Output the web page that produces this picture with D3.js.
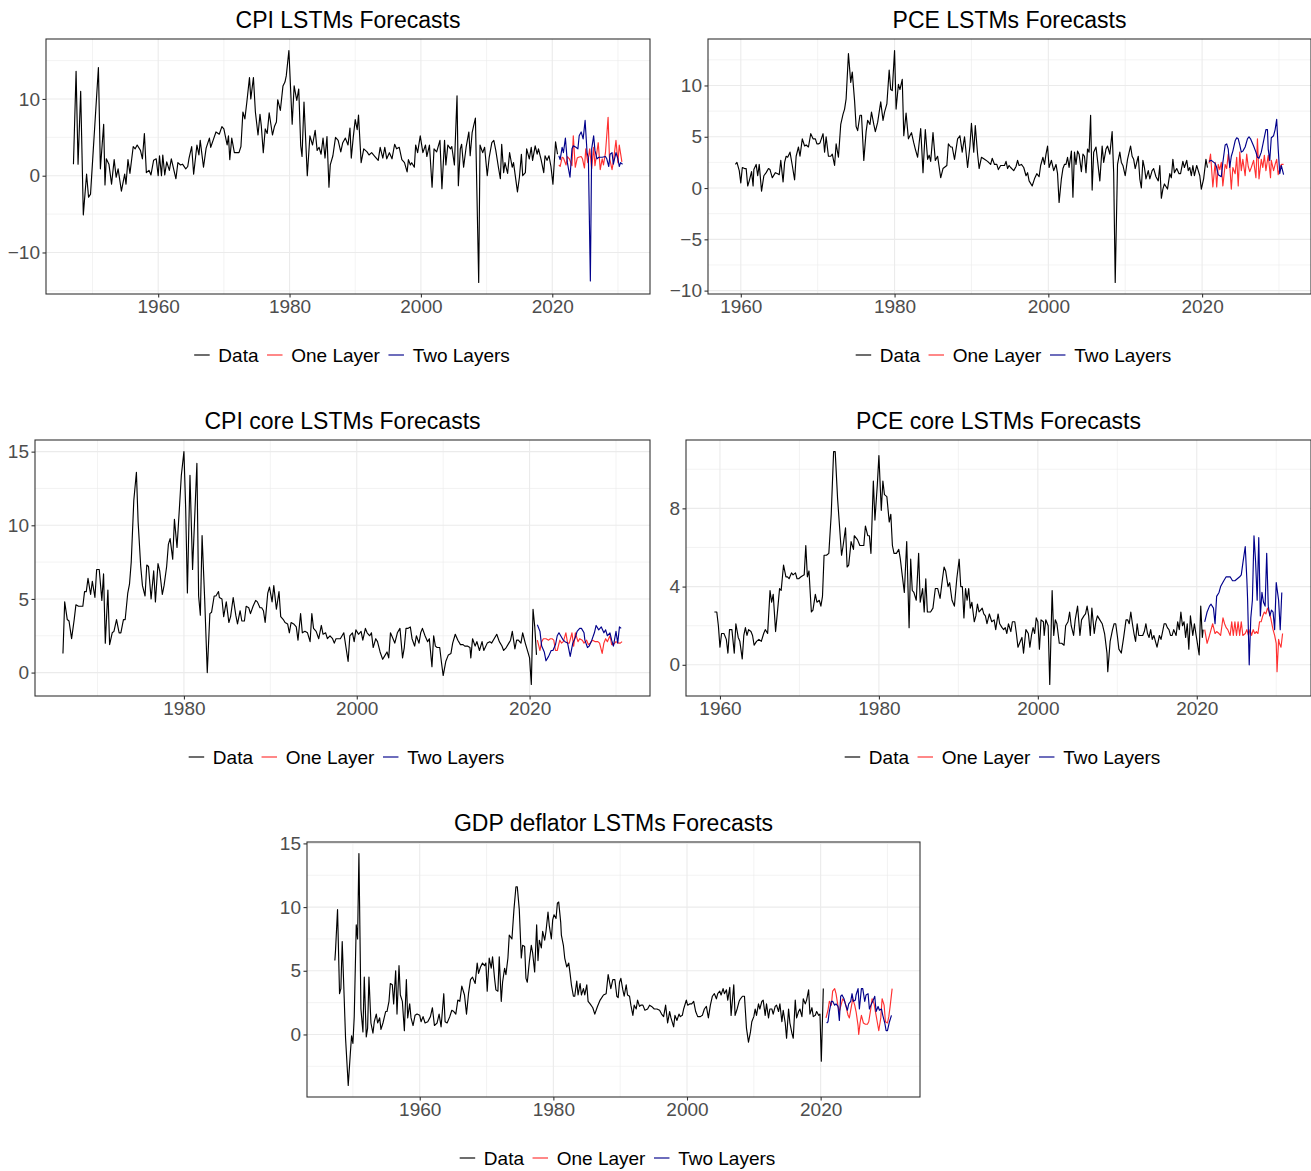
<!DOCTYPE html>
<html><head><meta charset="utf-8">
<script src="https://cdn.jsdelivr.net/npm/d3@7"></script>
<style>
body{margin:0;background:#fff}
svg{display:block}
text{font-family:"Liberation Sans",Arial,Helvetica,sans-serif}
</style>
</head><body>
<svg id="chart" width="1311" height="1171"></svg>
<script>
// ---------------- DATA ([year, value]) ----------------
const xTicks = [1960, 1980, 2000, 2020];
const seriesNames = ["Data", "One Layer", "Two Layers"];

const cpiYTicks = [-10, 0, 10];
const cpiData = [[1947.1,1.5],[1947.5,13.6],[1947.8,1.5],[1948.2,11.0],[1948.6,-5.1],[1949.1,0.2],[1949.4,-2.8],[1949.7,-2.4],[1950.9,14.1],[1951.2,0.9],[1951.7,6.7],[1951.9,-1.2],[1952.1,2.2],[1952.5,1.5],[1952.9,-1.1],[1953.3,2.1],[1953.6,-0.2],[1953.9,0.9],[1954.4,-2.0],[1954.9,0.2],[1955.1,-1.1],[1955.4,2.1],[1955.7,0.3],[1956.2,3.8],[1956.5,3.5],[1956.8,4.0],[1957.3,3.3],[1957.6,2.2],[1957.9,5.5],[1958.2,0.4],[1958.6,0.7],[1958.9,0.1],[1959.3,2.0],[1959.7,2.2],[1960.0,0.0],[1960.2,2.6],[1960.5,0.0],[1960.7,2.7],[1961.0,0.1],[1961.3,1.8],[1961.7,0.7],[1962.0,2.2],[1962.4,0.7],[1962.7,-0.4],[1963.0,1.7],[1963.4,1.4],[1963.7,1.5],[1964.2,0.9],[1964.5,1.2],[1964.7,2.3],[1965.1,3.8],[1965.4,0.2],[1965.9,4.0],[1966.2,2.7],[1966.4,4.6],[1966.9,1.1],[1967.3,3.6],[1967.8,4.9],[1968.0,3.7],[1968.4,4.7],[1968.8,5.7],[1969.3,5.4],[1969.7,6.4],[1970.0,6.1],[1970.5,4.0],[1970.7,5.2],[1970.9,2.1],[1971.2,4.9],[1971.6,3.0],[1972.3,3.0],[1972.6,3.8],[1972.9,8.3],[1973.2,7.4],[1973.5,9.6],[1973.9,12.8],[1974.1,10.0],[1974.5,12.8],[1974.8,8.3],[1975.2,5.3],[1975.5,8.0],[1975.7,6.5],[1976.0,3.0],[1976.3,6.1],[1976.6,5.5],[1976.9,8.2],[1977.4,5.3],[1977.7,6.4],[1978.0,7.0],[1978.2,9.9],[1978.6,8.5],[1979.0,11.7],[1979.3,12.2],[1979.5,13.0],[1979.9,16.3],[1980.4,6.7],[1980.7,11.7],[1981.1,9.8],[1981.4,11.3],[1981.7,3.9],[1981.9,2.5],[1982.2,9.6],[1982.7,0.0],[1983.1,5.2],[1983.5,4.0],[1983.9,5.9],[1984.2,3.3],[1984.5,3.7],[1984.8,2.8],[1985.1,4.9],[1985.4,2.3],[1985.7,5.1],[1986.0,-1.5],[1986.2,1.4],[1986.6,2.6],[1987.0,5.0],[1987.4,4.6],[1987.8,3.1],[1988.1,4.3],[1988.5,4.9],[1988.9,4.0],[1989.2,6.2],[1989.4,2.3],[1989.7,5.0],[1990.0,7.3],[1990.3,6.0],[1990.5,7.9],[1990.9,1.7],[1991.3,3.5],[1991.8,3.1],[1992.1,2.7],[1992.5,3.0],[1993.0,2.5],[1993.5,2.0],[1993.8,3.7],[1994.2,2.3],[1994.5,3.7],[1994.8,2.2],[1995.2,3.0],[1995.6,2.2],[1996.0,4.1],[1996.3,3.5],[1996.7,3.7],[1997.1,2.1],[1997.5,1.7],[1997.9,0.5],[1998.1,2.1],[1998.4,1.4],[1998.6,1.7],[1999.0,1.1],[1999.2,4.0],[1999.5,3.0],[1999.9,5.2],[2000.3,3.0],[2000.7,4.0],[2000.9,2.5],[2001.3,4.0],[2001.7,-1.5],[2002.0,3.5],[2002.4,3.1],[2002.9,4.6],[2003.2,-1.7],[2003.6,4.6],[2003.8,1.4],[2004.1,4.0],[2004.5,3.5],[2004.7,3.8],[2005.1,1.4],[2005.5,10.4],[2005.7,-1.3],[2006.0,3.5],[2006.2,4.1],[2006.5,1.1],[2006.9,3.8],[2007.3,5.7],[2007.5,2.6],[2007.8,5.6],[2008.0,6.4],[2008.3,7.5],[2008.8,-13.9],[2009.0,4.0],[2009.4,3.0],[2009.7,3.7],[2010.1,0.0],[2010.4,2.4],[2010.8,4.3],[2011.1,4.6],[2011.4,3.3],[2011.8,1.1],[2012.1,-0.4],[2012.3,4.1],[2012.6,0.4],[2012.8,1.7],[2013.2,0.3],[2013.5,3.0],[2013.9,1.1],[2014.1,1.7],[2014.7,-2.1],[2015.0,-0.2],[2015.3,2.8],[2015.5,0.0],[2015.9,0.4],[2016.1,3.5],[2016.5,2.2],[2016.8,3.7],[2017.0,2.0],[2017.4,3.9],[2017.7,2.8],[2017.9,3.5],[2018.3,2.1],[2018.7,0.4],[2018.9,2.6],[2019.2,2.0],[2019.5,2.6],[2019.8,1.2],[2020.1,-1.1],[2020.5,4.4],[2020.8,2.8]];
const cpiOne = [[2021.0,1.4],[2021.2,1.2],[2021.5,2.4],[2021.7,2.3],[2022.1,1.4],[2022.3,2.5],[2022.6,2.2],[2023.0,1.3],[2023.2,5.2],[2023.5,1.1],[2023.8,2.3],[2024.0,2.4],[2024.4,2.5],[2024.6,2.2],[2024.9,1.0],[2025.1,3.5],[2025.4,1.7],[2025.7,3.5],[2026.0,0.9],[2026.3,3.7],[2026.5,1.3],[2027.0,4.3],[2027.3,0.8],[2027.6,2.2],[2027.8,1.4],[2028.1,3.0],[2028.5,7.6],[2028.7,2.4],[2029.1,0.8],[2029.3,1.8],[2029.7,4.6],[2030.0,1.7],[2030.2,4.0],[2030.6,1.8]];
const cpiTwo = [[2021.0,2.6],[2021.2,2.1],[2021.5,3.7],[2021.7,3.0],[2022.0,4.9],[2022.3,1.7],[2022.7,-0.2],[2023.0,3.5],[2023.2,3.9],[2023.6,3.7],[2023.9,3.5],[2024.1,5.2],[2024.4,5.7],[2024.7,4.8],[2025.0,7.2],[2025.3,3.0],[2025.5,2.3],[2025.8,-13.7],[2026.0,3.5],[2026.3,5.2],[2026.5,3.3],[2026.8,2.2],[2027.1,2.4],[2027.6,2.4],[2028.1,2.5],[2028.3,2.2],[2028.6,1.2],[2028.8,2.8],[2029.1,3.0],[2029.3,1.5],[2029.7,3.0],[2030.0,2.2],[2030.2,1.2],[2030.4,1.7],[2030.7,1.5]];

const pceYTicks = [-10, -5, 0, 5, 10];
const pceData = [[1959.3,2.3],[1959.5,2.5],[1959.8,1.7],[1960.0,0.5],[1960.2,2.0],[1960.5,1.9],[1960.7,1.9],[1960.9,0.2],[1961.1,0.7],[1961.4,1.6],[1961.6,0.2],[1961.7,1.8],[1962.0,2.3],[1962.2,1.2],[1962.4,2.3],[1962.7,-0.3],[1963.0,1.2],[1963.3,1.5],[1963.6,1.9],[1963.8,1.8],[1964.1,1.0],[1964.5,1.5],[1964.8,1.4],[1965.0,1.3],[1965.2,2.7],[1965.5,0.6],[1965.7,2.5],[1965.9,3.1],[1966.1,3.0],[1966.4,3.5],[1966.7,2.2],[1967.0,0.8],[1967.2,3.1],[1967.5,4.0],[1967.7,3.1],[1968.0,4.8],[1968.3,4.1],[1968.5,4.2],[1968.8,4.0],[1969.1,5.3],[1969.4,4.8],[1969.7,4.8],[1969.9,4.3],[1970.1,4.3],[1970.3,4.4],[1970.7,5.3],[1970.9,3.5],[1971.1,5.0],[1971.4,3.1],[1971.7,3.1],[1971.9,3.3],[1972.2,2.2],[1972.4,4.3],[1972.7,3.0],[1973.0,6.2],[1973.3,7.2],[1973.5,7.7],[1973.7,8.7],[1974.0,13.1],[1974.3,10.3],[1974.5,11.3],[1974.8,8.5],[1975.0,6.0],[1975.2,5.6],[1975.5,7.1],[1975.7,7.1],[1976.0,2.7],[1976.3,5.5],[1976.5,6.6],[1976.8,6.2],[1977.0,7.4],[1977.3,6.2],[1977.5,5.5],[1977.8,6.4],[1978.2,8.4],[1978.5,6.6],[1978.7,7.4],[1979.0,8.2],[1979.3,11.5],[1979.5,9.6],[1979.7,9.5],[1980.0,13.4],[1980.2,7.7],[1980.5,10.1],[1980.7,9.6],[1981.0,10.6],[1981.2,5.1],[1981.5,7.3],[1981.8,4.8],[1982.2,5.4],[1982.5,4.4],[1982.7,3.8],[1983.0,3.0],[1983.4,5.8],[1983.7,1.5],[1984.0,5.7],[1984.3,2.8],[1984.5,3.2],[1984.7,2.6],[1985.0,5.4],[1985.3,2.7],[1985.6,3.1],[1986.0,1.0],[1986.3,1.9],[1986.8,2.2],[1987.0,4.3],[1987.3,4.0],[1987.5,4.0],[1987.8,2.8],[1988.2,4.8],[1988.5,5.1],[1988.8,3.5],[1989.1,5.0],[1989.5,2.0],[1989.8,4.1],[1990.0,6.3],[1990.3,3.5],[1990.5,6.1],[1990.8,3.3],[1991.0,1.9],[1991.3,3.0],[1991.7,2.8],[1992.1,2.6],[1992.5,2.3],[1992.7,2.9],[1993.0,2.3],[1993.3,2.3],[1993.5,1.8],[1993.8,2.2],[1994.3,2.2],[1994.5,2.6],[1994.7,1.9],[1994.9,2.2],[1995.1,2.0],[1995.5,1.7],[1995.8,2.1],[1996.0,2.7],[1996.2,2.2],[1996.5,2.3],[1996.8,2.0],[1997.1,1.2],[1997.3,1.5],[1997.5,0.7],[1997.9,0.2],[1998.2,0.9],[1998.5,1.4],[1998.8,1.1],[1999.0,2.2],[1999.3,3.0],[1999.5,2.3],[1999.7,3.3],[1999.9,4.1],[2000.1,2.0],[2000.4,2.7],[2000.7,1.7],[2001.0,2.3],[2001.2,1.4],[2001.4,-1.4],[2001.7,0.9],[2001.9,1.9],[2002.1,2.3],[2002.3,2.3],[2002.5,3.0],[2002.7,2.0],[2003.0,3.6],[2003.2,-0.9],[2003.4,3.5],[2003.6,2.3],[2003.8,3.6],[2004.0,3.3],[2004.3,1.6],[2004.5,3.3],[2004.7,3.1],[2004.9,1.5],[2005.1,3.8],[2005.3,3.5],[2005.5,7.1],[2005.7,-0.2],[2005.9,3.5],[2006.2,4.0],[2006.4,2.7],[2006.7,0.7],[2007.0,4.1],[2007.2,2.5],[2007.5,3.8],[2007.7,4.1],[2008.0,3.3],[2008.3,5.5],[2008.5,1.5],[2008.7,-9.2],[2009.0,2.3],[2009.3,3.5],[2009.5,2.5],[2009.7,2.2],[2010.0,1.2],[2010.3,2.8],[2010.7,4.1],[2010.9,3.1],[2011.1,2.8],[2011.3,1.9],[2011.7,3.1],[2011.9,0.9],[2012.1,0.0],[2012.3,2.7],[2012.5,2.0],[2012.7,0.9],[2013.0,1.7],[2013.2,0.9],[2013.5,1.7],[2013.7,1.9],[2014.0,1.1],[2014.3,0.7],[2014.5,2.2],[2014.7,-1.0],[2014.9,-0.1],[2015.1,0.4],[2015.5,-0.1],[2015.8,1.4],[2016.0,1.0],[2016.2,2.8],[2016.4,1.5],[2016.7,1.9],[2017.0,1.4],[2017.2,1.4],[2017.5,2.6],[2017.7,2.0],[2018.0,2.7],[2018.2,1.7],[2018.4,2.0],[2018.6,1.2],[2018.8,2.2],[2019.0,1.2],[2019.3,2.2],[2019.5,1.7],[2019.7,1.2],[2019.9,-0.1],[2020.2,0.9],[2020.5,2.8],[2020.7,2.0]];
const pceOne = [[2020.9,2.4],[2021.1,3.3],[2021.4,0.1],[2021.7,2.5],[2021.9,0.1],[2022.1,2.3],[2022.3,1.8],[2022.5,2.5],[2022.7,0.2],[2023.0,2.3],[2023.2,1.9],[2023.4,3.3],[2023.6,2.2],[2023.8,-0.1],[2024.0,2.0],[2024.3,1.4],[2024.5,3.0],[2024.7,0.2],[2024.9,3.5],[2025.1,1.7],[2025.3,2.8],[2025.6,1.2],[2025.8,3.3],[2026.0,2.1],[2026.2,1.6],[2026.4,2.0],[2026.7,2.7],[2027.0,1.0],[2027.2,4.8],[2027.4,0.9],[2027.7,2.8],[2027.9,2.0],[2028.1,3.2],[2028.3,1.7],[2028.6,3.2],[2028.9,1.0],[2029.0,2.7],[2029.3,1.7],[2029.5,2.3],[2029.7,2.8],[2029.9,1.3],[2030.1,1.9],[2030.3,2.3],[2030.6,2.3]];
const pceTwo = [[2020.9,2.6],[2021.2,2.7],[2021.7,2.4],[2021.9,2.0],[2022.1,1.3],[2022.3,1.2],[2022.5,1.1],[2022.7,2.5],[2023.0,4.2],[2023.2,4.3],[2023.4,3.8],[2023.6,2.0],[2023.8,3.1],[2024.0,3.6],[2024.3,4.6],[2024.5,4.9],[2024.7,4.8],[2024.9,4.2],[2025.1,3.5],[2025.3,3.6],[2025.6,4.0],[2025.9,4.8],[2026.1,5.0],[2026.3,4.8],[2026.7,4.1],[2027.0,3.5],[2027.2,3.0],[2027.4,2.9],[2027.7,3.5],[2028.0,4.6],[2028.3,5.7],[2028.5,5.7],[2028.6,3.8],[2028.8,2.7],[2029.0,4.9],[2029.3,5.1],[2029.5,5.7],[2029.7,6.7],[2029.9,3.8],[2030.1,1.4],[2030.3,2.2],[2030.6,1.3]];

const cpiCoreYTicks = [0, 5, 10, 15];
const cpiCoreData = [[1966.0,1.3],[1966.2,4.8],[1966.5,3.6],[1966.7,3.5],[1967.0,2.3],[1967.3,3.6],[1967.5,4.6],[1967.8,4.5],[1968.1,4.5],[1968.3,4.5],[1968.5,5.5],[1968.7,5.5],[1968.9,6.4],[1969.2,5.3],[1969.4,6.2],[1969.7,5.1],[1969.9,7.0],[1970.2,7.0],[1970.5,4.9],[1970.7,6.7],[1970.9,2.0],[1971.2,5.6],[1971.4,1.9],[1971.7,2.7],[1971.9,2.8],[1972.2,3.6],[1972.5,2.7],[1972.7,2.7],[1973.0,3.6],[1973.2,3.6],[1973.5,5.4],[1973.7,6.0],[1973.9,7.5],[1974.2,11.7],[1974.5,13.6],[1974.7,10.2],[1975.0,7.2],[1975.2,5.9],[1975.5,5.2],[1975.7,7.3],[1975.9,7.2],[1976.2,5.0],[1976.5,6.9],[1976.7,4.8],[1977.0,7.4],[1977.2,6.9],[1977.5,5.3],[1977.7,5.9],[1978.0,7.2],[1978.2,8.7],[1978.4,9.1],[1978.7,7.7],[1978.9,10.4],[1979.2,8.5],[1979.5,11.4],[1979.7,13.4],[1980.0,15.0],[1980.2,11.2],[1980.4,5.4],[1980.7,13.4],[1981.0,7.0],[1981.5,14.2],[1981.7,5.2],[1981.9,3.9],[1982.1,9.3],[1982.4,5.0],[1982.7,0.0],[1983.0,4.0],[1983.2,4.1],[1983.5,5.2],[1983.7,5.2],[1984.0,5.5],[1984.1,5.1],[1984.4,5.0],[1984.6,3.8],[1984.9,4.8],[1985.2,3.4],[1985.4,3.8],[1985.7,5.1],[1986.0,3.9],[1986.2,3.3],[1986.5,4.2],[1986.7,3.5],[1987.0,3.5],[1987.2,4.5],[1987.5,4.4],[1987.7,4.0],[1988.0,4.5],[1988.3,4.9],[1988.5,4.8],[1988.8,4.4],[1989.0,4.4],[1989.2,4.2],[1989.4,3.4],[1989.7,5.4],[1989.9,5.8],[1990.2,4.8],[1990.4,5.9],[1990.7,4.3],[1991.0,5.5],[1991.2,3.8],[1991.5,3.6],[1991.7,3.4],[1992.0,3.3],[1992.2,2.7],[1992.4,3.4],[1992.7,3.3],[1993.0,3.1],[1993.2,2.2],[1993.5,4.0],[1993.7,2.7],[1994.0,2.8],[1994.3,2.7],[1994.6,2.1],[1994.8,4.0],[1995.0,3.0],[1995.3,2.8],[1995.6,2.3],[1995.9,3.2],[1996.1,2.6],[1996.4,2.7],[1996.6,2.3],[1996.9,2.5],[1997.2,2.3],[1997.4,2.0],[1997.6,2.3],[1998.1,2.3],[1998.5,2.7],[1999.0,0.75],[1999.2,2.5],[1999.5,2.7],[1999.7,2.1],[1999.9,2.9],[2000.2,2.6],[2000.5,2.8],[2000.7,2.2],[2001.0,3.0],[2001.2,2.7],[2001.5,2.5],[2001.7,2.7],[2001.9,1.7],[2002.2,2.3],[2002.4,2.1],[2002.7,1.4],[2003.0,0.9],[2003.2,1.1],[2003.5,1.4],[2003.7,1.0],[2003.9,2.7],[2004.2,2.3],[2004.4,2.0],[2004.7,2.7],[2005.0,3.0],[2005.3,1.0],[2005.5,1.7],[2005.7,3.0],[2005.9,3.0],[2006.2,3.1],[2006.4,2.3],[2006.7,1.8],[2006.9,2.5],[2007.2,2.0],[2007.4,2.7],[2007.6,3.0],[2007.9,2.5],[2008.2,2.1],[2008.4,2.3],[2008.7,0.4],[2008.9,2.5],[2009.1,1.8],[2009.3,1.7],[2009.6,1.7],[2009.8,0.7],[2010.0,-0.2],[2010.3,0.75],[2010.6,1.2],[2010.9,1.3],[2011.1,2.0],[2011.4,2.6],[2011.7,2.2],[2012.0,1.9],[2012.3,1.9],[2012.5,1.8],[2012.8,1.8],[2013.1,1.7],[2013.2,1.0],[2013.4,2.3],[2013.7,1.8],[2013.9,2.1],[2014.2,1.5],[2014.5,2.1],[2014.7,1.5],[2015.1,2.0],[2015.4,2.1],[2015.6,2.0],[2015.9,2.3],[2016.2,2.6],[2016.5,2.1],[2016.8,1.8],[2017.0,1.5],[2017.3,1.7],[2017.6,2.0],[2017.8,2.2],[2018.0,2.8],[2018.3,1.6],[2018.5,2.2],[2018.7,2.2],[2019.0,2.0],[2019.2,2.7],[2019.5,2.0],[2019.8,1.4],[2020.0,1.0],[2020.2,-0.8],[2020.4,4.3],[2020.6,3.1],[2020.8,1.2]];
const cpiCoreOne = [[2020.9,2.2],[2021.2,1.5],[2021.4,2.1],[2021.6,2.3],[2021.9,2.3],[2022.2,2.2],[2022.4,2.3],[2022.6,2.3],[2022.8,2.2],[2023.0,1.5],[2023.2,1.5],[2023.5,2.2],[2023.7,2.0],[2023.9,2.1],[2024.2,2.7],[2024.4,2.0],[2024.6,2.0],[2024.9,2.7],[2025.1,1.8],[2025.3,2.7],[2025.6,2.1],[2025.8,2.3],[2026.1,2.2],[2026.3,2.0],[2026.6,2.2],[2026.8,1.9],[2027.0,2.0],[2027.3,2.2],[2027.6,2.1],[2027.9,2.1],[2028.1,2.0],[2028.4,1.3],[2028.6,2.0],[2028.8,2.3],[2029.0,2.1],[2029.3,2.5],[2029.5,1.9],[2029.7,1.9],[2030.0,2.1],[2030.3,2.0],[2030.5,2.0],[2030.7,2.1]];
const cpiCoreTwo = [[2020.9,3.25],[2021.2,2.8],[2021.4,1.8],[2021.7,1.4],[2021.9,0.8],[2022.2,1.1],[2022.5,1.5],[2022.7,1.5],[2023.0,1.9],[2023.2,2.5],[2023.4,2.7],[2023.6,2.5],[2023.9,2.2],[2024.1,2.1],[2024.4,2.0],[2024.7,1.1],[2025.0,2.0],[2025.3,2.4],[2025.5,2.8],[2025.8,3.0],[2026.0,3.0],[2026.3,2.7],[2026.4,2.2],[2026.7,1.7],[2026.9,1.8],[2027.2,2.2],[2027.5,2.7],[2027.7,3.2],[2028.0,2.9],[2028.3,3.1],[2028.6,2.7],[2028.8,2.9],[2029.0,2.5],[2029.3,2.7],[2029.5,2.2],[2029.7,1.8],[2030.0,2.8],[2030.2,2.0],[2030.4,3.1],[2030.6,3.0]];

const pceCoreYTicks = [0, 4, 8];
const pceCoreData = [[1959.3,2.7],[1959.6,2.7],[1959.8,2.0],[1960.0,0.9],[1960.2,1.6],[1960.5,1.6],[1960.8,1.3],[1961.0,0.6],[1961.2,1.8],[1961.5,1.8],[1961.8,0.6],[1962.0,2.1],[1962.3,1.4],[1962.5,1.2],[1962.8,0.3],[1963.0,1.5],[1963.2,1.9],[1963.4,1.5],[1963.6,1.8],[1963.9,1.7],[1964.1,1.5],[1964.3,1.0],[1964.6,1.2],[1964.9,1.3],[1965.2,1.2],[1965.5,1.6],[1965.7,1.8],[1966.0,1.6],[1966.3,3.8],[1966.5,3.2],[1966.7,3.6],[1967.0,1.7],[1967.3,3.0],[1967.5,3.9],[1967.7,3.8],[1968.0,5.1],[1968.3,4.5],[1968.5,4.5],[1968.7,4.4],[1969.0,4.7],[1969.2,4.6],[1969.5,4.7],[1969.7,4.4],[1969.9,4.4],[1970.2,4.5],[1970.6,4.6],[1970.8,6.1],[1971.0,4.5],[1971.2,4.8],[1971.5,2.7],[1971.7,2.8],[1972.0,3.6],[1972.2,3.2],[1972.5,3.3],[1972.7,3.0],[1972.9,3.5],[1973.1,5.6],[1973.4,5.6],[1973.7,5.7],[1974.0,7.7],[1974.3,10.9],[1974.5,10.9],[1974.8,8.5],[1975.3,5.6],[1975.5,6.1],[1975.8,7.0],[1976.0,5.0],[1976.2,5.1],[1976.5,6.3],[1976.8,5.9],[1976.9,6.6],[1977.3,6.4],[1977.6,6.1],[1977.9,6.1],[1978.1,6.1],[1978.3,7.1],[1978.6,6.6],[1978.8,6.6],[1979.0,5.7],[1979.3,9.4],[1979.5,7.4],[1979.8,9.2],[1980.0,10.7],[1980.3,7.9],[1980.5,9.4],[1980.7,8.7],[1981.0,8.6],[1981.3,7.3],[1981.5,7.7],[1981.7,6.1],[1981.9,5.7],[1982.2,5.7],[1982.5,5.9],[1982.7,5.4],[1982.9,4.7],[1983.2,3.7],[1983.5,6.3],[1983.8,1.9],[1984.0,5.4],[1984.2,3.8],[1984.4,3.7],[1984.7,3.3],[1985.0,5.7],[1985.2,3.2],[1985.5,3.9],[1985.7,2.7],[1985.9,4.4],[1986.1,2.7],[1986.3,2.7],[1986.5,2.7],[1986.8,2.9],[1987.1,3.9],[1987.4,3.9],[1987.7,3.4],[1988.0,4.4],[1988.2,5.0],[1988.4,4.8],[1988.7,4.0],[1988.9,4.2],[1989.2,3.3],[1989.5,3.0],[1989.8,4.4],[1990.1,5.4],[1990.3,4.0],[1990.5,4.0],[1990.7,2.4],[1990.9,3.9],[1991.1,3.3],[1991.3,3.9],[1991.5,2.9],[1991.7,3.2],[1992.0,2.2],[1992.2,2.5],[1992.4,3.1],[1992.6,2.7],[1992.8,2.8],[1993.0,2.9],[1993.2,2.6],[1993.4,2.5],[1993.6,2.1],[1993.9,2.6],[1994.2,2.2],[1994.5,2.3],[1994.7,1.8],[1995.0,2.6],[1995.2,2.1],[1995.5,1.9],[1995.7,1.8],[1995.9,1.9],[1996.1,1.6],[1996.3,2.1],[1996.6,1.7],[1996.8,2.2],[1997.1,2.2],[1997.3,1.6],[1997.5,0.9],[1997.8,1.2],[1998.0,1.4],[1998.2,0.6],[1998.5,1.8],[1998.8,1.6],[1999.0,0.9],[1999.2,1.5],[1999.4,1.9],[1999.6,1.6],[1999.8,2.4],[2000.0,2.2],[2000.2,0.8],[2000.4,2.3],[2000.7,2.2],[2000.8,1.5],[2001.0,2.3],[2001.3,2.0],[2001.5,-1.0],[2001.8,3.8],[2002.0,1.5],[2002.2,2.3],[2002.4,2.1],[2002.7,1.1],[2003.0,1.1],[2003.3,1.0],[2003.5,2.0],[2003.8,2.2],[2004.0,2.7],[2004.2,2.0],[2004.5,1.5],[2004.7,2.3],[2005.0,3.0],[2005.3,1.5],[2005.5,2.3],[2005.8,2.5],[2006.0,2.6],[2006.2,3.0],[2006.4,2.5],[2006.6,1.5],[2006.8,2.9],[2007.1,1.6],[2007.3,2.2],[2007.5,2.5],[2007.8,2.3],[2008.1,2.1],[2008.4,1.6],[2008.7,0.6],[2008.8,-0.35],[2009.1,1.2],[2009.4,1.8],[2009.6,2.1],[2009.8,2.1],[2010.0,1.5],[2010.2,0.8],[2010.5,0.6],[2010.8,1.4],[2011.1,2.3],[2011.3,2.3],[2011.5,2.1],[2011.7,2.7],[2011.9,2.1],[2012.1,1.6],[2012.3,1.2],[2012.5,2.1],[2012.7,1.5],[2012.9,1.5],[2013.2,1.5],[2013.4,1.7],[2013.6,2.1],[2013.8,1.6],[2014.0,1.4],[2014.2,1.8],[2014.4,1.3],[2014.6,1.5],[2014.8,1.2],[2015.0,0.9],[2015.3,1.5],[2015.5,1.3],[2015.7,1.7],[2015.9,2.1],[2016.1,2.1],[2016.3,1.9],[2016.5,1.8],[2016.7,1.5],[2016.9,1.5],[2017.1,1.8],[2017.4,1.5],[2017.6,2.2],[2017.8,1.8],[2018.0,2.7],[2018.2,2.0],[2018.4,2.2],[2018.6,1.4],[2018.8,2.1],[2019.0,0.8],[2019.2,2.5],[2019.5,1.5],[2019.7,2.1],[2020.0,1.3],[2020.3,0.5],[2020.5,3.0],[2020.7,1.4],[2020.8,1.8]];
const pceCoreOne = [[2021.0,1.8],[2021.3,1.1],[2021.6,1.5],[2021.8,1.8],[2022.0,2.1],[2022.3,1.6],[2022.5,1.7],[2022.8,1.6],[2023.0,1.5],[2023.3,2.4],[2023.5,2.1],[2023.7,1.9],[2023.9,1.8],[2024.2,1.5],[2024.4,2.2],[2024.6,1.5],[2024.8,2.2],[2025.0,1.5],[2025.2,2.2],[2025.4,1.5],[2025.6,2.2],[2025.8,1.5],[2026.1,1.6],[2026.3,1.8],[2026.5,1.5],[2026.7,1.8],[2026.9,1.5],[2027.1,1.8],[2027.3,1.6],[2027.5,1.7],[2027.7,1.6],[2027.9,2.2],[2028.1,2.2],[2028.3,2.5],[2028.5,2.7],[2028.7,2.6],[2028.9,2.9],[2029.1,2.7],[2029.3,2.4],[2029.6,1.8],[2029.8,1.5],[2030.0,1.1],[2030.1,-0.35],[2030.3,1.3],[2030.4,1.1],[2030.6,0.9],[2030.8,1.6]];
const pceCoreTwo = [[2021.0,2.2],[2021.3,2.7],[2021.6,3.0],[2021.8,3.1],[2022.1,2.9],[2022.3,2.1],[2022.5,3.5],[2022.8,3.7],[2023.0,4.0],[2023.4,4.3],[2023.7,4.5],[2023.9,4.5],[2024.2,4.5],[2024.5,4.3],[2024.8,4.3],[2025.1,4.4],[2025.4,4.5],[2025.6,4.6],[2025.8,5.2],[2026.1,6.05],[2026.3,4.4],[2026.4,3.3],[2026.6,0.0],[2026.8,2.4],[2027.0,3.3],[2027.2,6.6],[2027.4,5.3],[2027.6,3.3],[2027.8,6.5],[2028.0,2.5],[2028.2,3.7],[2028.4,3.2],[2028.6,3.0],[2028.8,5.7],[2029.0,3.0],[2029.2,2.5],[2029.4,2.8],[2029.6,2.7],[2029.8,1.8],[2030.0,4.2],[2030.3,3.3],[2030.5,1.8],[2030.7,3.7]];

const gdpYTicks = [0, 5, 10, 15];
const gdpData = [[1947.3,5.8],[1947.4,6.6],[1947.7,9.8],[1948.0,3.2],[1948.2,3.6],[1948.4,7.3],[1948.7,2.8],[1948.9,-0.3],[1949.3,-4.0],[1949.6,-1.6],[1949.8,-0.1],[1950.0,-0.7],[1950.2,1.4],[1950.5,8.6],[1950.7,7.5],[1950.9,14.2],[1951.2,2.0],[1951.5,0.2],[1951.7,4.5],[1952.0,-0.2],[1952.2,0.5],[1952.4,4.5],[1952.7,0.9],[1953.0,0.1],[1953.2,1.0],[1953.5,1.6],[1953.7,0.9],[1954.0,1.3],[1954.2,0.4],[1954.5,0.9],[1954.9,1.8],[1955.1,1.8],[1955.4,2.6],[1955.6,4.0],[1955.9,3.9],[1956.1,2.4],[1956.4,5.0],[1956.6,1.6],[1956.9,5.4],[1957.1,3.1],[1957.4,2.6],[1957.7,0.3],[1958.0,4.3],[1958.2,1.3],[1958.5,2.4],[1958.7,1.3],[1959.0,0.7],[1959.3,1.5],[1959.6,1.6],[1960.0,1.5],[1960.2,1.0],[1960.5,1.4],[1960.8,0.9],[1961.2,1.0],[1961.6,1.4],[1961.9,2.1],[1962.2,0.7],[1962.6,0.9],[1962.9,1.6],[1963.2,0.6],[1963.6,3.2],[1963.8,1.0],[1964.1,0.9],[1964.5,1.4],[1964.8,1.9],[1965.1,1.8],[1965.4,1.6],[1965.7,2.7],[1966.0,2.6],[1966.3,3.8],[1966.7,3.1],[1967.0,1.6],[1967.3,3.2],[1967.6,4.3],[1967.9,4.5],[1968.3,4.0],[1968.6,5.6],[1968.8,4.8],[1969.1,5.3],[1969.4,5.6],[1969.7,5.4],[1969.9,5.6],[1970.1,3.4],[1970.4,6.0],[1970.7,5.2],[1970.9,6.1],[1971.2,4.4],[1971.4,3.5],[1971.7,3.4],[1971.9,6.1],[1972.2,2.6],[1972.4,4.1],[1972.7,5.2],[1972.9,4.7],[1973.2,6.0],[1973.4,7.8],[1973.8,7.5],[1974.1,9.8],[1974.4,11.6],[1974.6,11.6],[1974.9,9.8],[1975.2,6.0],[1975.4,7.0],[1975.7,6.9],[1975.9,4.4],[1976.1,4.1],[1976.4,5.7],[1976.7,7.0],[1976.9,6.4],[1977.2,4.9],[1977.5,8.6],[1977.7,5.8],[1977.9,7.4],[1978.2,6.8],[1978.4,8.1],[1978.7,7.4],[1978.9,8.1],[1979.2,9.6],[1979.4,8.5],[1979.7,7.5],[1979.9,9.0],[1980.1,9.4],[1980.4,9.1],[1980.6,10.3],[1980.8,10.4],[1981.1,8.8],[1981.2,7.8],[1981.5,7.0],[1981.7,6.0],[1982.0,5.3],[1982.3,5.6],[1982.5,4.8],[1982.7,3.9],[1983.0,3.0],[1983.2,3.0],[1983.5,4.2],[1983.7,3.1],[1984.0,4.0],[1984.2,3.1],[1984.5,3.6],[1984.7,3.1],[1985.0,3.9],[1985.2,2.6],[1985.5,2.4],[1985.9,2.1],[1986.2,1.6],[1986.6,2.2],[1987.0,2.7],[1987.5,3.1],[1987.9,3.2],[1988.2,4.7],[1988.6,3.6],[1988.9,4.3],[1989.2,4.3],[1989.5,3.0],[1989.7,2.9],[1989.9,4.1],[1990.1,4.4],[1990.4,3.5],[1990.6,3.0],[1990.9,3.9],[1991.1,3.1],[1991.4,3.0],[1991.6,2.3],[1991.9,1.5],[1992.1,2.3],[1992.4,2.0],[1992.6,2.7],[1992.9,2.2],[1993.1,2.3],[1993.4,2.3],[1993.7,1.9],[1994.1,2.0],[1994.4,2.3],[1994.7,2.2],[1995.1,2.0],[1995.5,2.0],[1995.9,1.9],[1996.2,1.6],[1996.5,1.4],[1996.8,2.3],[1997.1,0.9],[1997.4,1.8],[1997.6,1.3],[1998.0,0.6],[1998.2,1.5],[1998.5,1.1],[1998.8,1.6],[1999.0,1.4],[1999.3,1.5],[1999.5,2.0],[1999.9,2.7],[2000.1,2.3],[2000.4,2.4],[2000.7,2.4],[2001.0,2.6],[2001.3,1.8],[2001.6,1.4],[2002.0,1.4],[2002.3,1.5],[2002.6,2.0],[2002.9,2.2],[2003.2,1.3],[2003.5,2.3],[2003.8,3.0],[2004.1,3.2],[2004.4,2.8],[2004.6,3.2],[2004.9,3.4],[2005.1,3.1],[2005.4,3.6],[2005.6,3.2],[2005.9,3.5],[2006.1,2.7],[2006.4,3.7],[2006.6,1.5],[2007.0,3.9],[2007.2,1.5],[2007.5,2.0],[2007.8,2.6],[2008.0,2.8],[2008.3,3.0],[2008.6,3.0],[2008.9,0.5],[2009.2,-0.6],[2009.5,0.2],[2009.7,1.0],[2010.0,1.4],[2010.2,2.0],[2010.4,1.5],[2010.7,2.4],[2010.9,2.0],[2011.2,2.6],[2011.4,2.7],[2011.7,1.5],[2011.9,2.4],[2012.2,1.3],[2012.4,2.0],[2012.7,2.0],[2012.9,1.6],[2013.2,2.2],[2013.4,2.3],[2013.7,1.8],[2013.9,2.4],[2014.2,1.0],[2014.4,1.9],[2014.7,0.9],[2014.9,-0.3],[2015.2,2.0],[2015.4,0.9],[2015.7,0.1],[2015.9,-0.3],[2016.2,2.7],[2016.4,1.3],[2016.7,1.8],[2016.9,2.0],[2017.2,1.4],[2017.4,2.8],[2017.7,2.4],[2017.9,2.7],[2018.2,3.5],[2018.4,1.6],[2018.7,2.1],[2018.9,1.4],[2019.2,1.5],[2019.4,1.8],[2019.7,1.5],[2019.9,1.6],[2020.1,-2.1],[2020.4,3.6]];
const gdpOne = [[2020.8,1.3],[2021.1,1.9],[2021.3,2.6],[2021.6,2.3],[2021.8,3.4],[2022.1,3.6],[2022.3,3.2],[2022.6,2.2],[2022.8,1.8],[2023.1,2.4],[2023.3,2.8],[2023.6,2.6],[2023.8,2.2],[2024.1,1.5],[2024.3,1.3],[2024.6,2.2],[2024.8,2.8],[2025.1,2.3],[2025.3,1.8],[2025.6,0.7],[2025.7,0.0],[2025.9,0.9],[2026.1,1.5],[2026.4,0.9],[2026.7,0.8],[2027.0,0.8],[2027.2,1.0],[2027.5,2.0],[2027.7,2.8],[2028.0,2.4],[2028.2,1.8],[2028.5,0.9],[2028.7,0.3],[2029.0,1.3],[2029.2,2.8],[2029.5,2.3],[2029.7,1.0],[2030.0,0.9],[2030.2,1.4],[2030.4,2.2],[2030.7,3.6]];
const gdpTwo = [[2020.9,0.9],[2021.1,1.0],[2021.3,1.8],[2021.6,2.6],[2021.8,2.6],[2022.1,2.3],[2022.3,2.4],[2022.6,2.2],[2022.8,1.1],[2023.0,3.0],[2023.2,3.1],[2023.5,2.8],[2023.7,2.4],[2024.0,1.9],[2024.2,2.4],[2024.5,2.6],[2024.7,3.2],[2024.9,2.6],[2025.2,2.7],[2025.3,3.1],[2025.6,3.6],[2025.8,2.0],[2026.1,3.6],[2026.3,3.6],[2026.6,2.6],[2026.8,3.1],[2027.1,3.2],[2027.3,2.0],[2027.6,2.4],[2027.8,2.6],[2028.1,3.0],[2028.3,1.8],[2028.6,2.2],[2028.8,1.9],[2029.1,2.0],[2029.3,1.5],[2029.6,0.9],[2029.8,0.3],[2030.0,0.3],[2030.3,1.0],[2030.6,1.5]];

// ---------------- LAYOUT ----------------
const panels = [
  {title:"CPI LSTMs Forecasts",          data:cpiData,     one:cpiOne,     two:cpiTwo,     yTicks:cpiYTicks,     box:{x0:46,  y0:39,  x1:650,  y1:294}},
  {title:"PCE LSTMs Forecasts",          data:pceData,     one:pceOne,     two:pceTwo,     yTicks:pceYTicks,     box:{x0:708, y0:39,  x1:1311, y1:294}},
  {title:"CPI core LSTMs Forecasts",     data:cpiCoreData, one:cpiCoreOne, two:cpiCoreTwo, yTicks:cpiCoreYTicks, box:{x0:35,  y0:440, x1:650,  y1:696}},
  {title:"PCE core LSTMs Forecasts",     data:pceCoreData, one:pceCoreOne, two:pceCoreTwo, yTicks:pceCoreYTicks, box:{x0:686, y0:440, x1:1311, y1:696}},
  {title:"GDP deflator LSTMs Forecasts", data:gdpData,     one:gdpOne,     two:gdpTwo,     yTicks:gdpYTicks,     box:{x0:307, y0:842, x1:920,  y1:1097}}
];
const colors = ["#000000", "#FF3030", "#00008B"];

const svg = d3.select("#chart");
const fmt = d3.format("d");

function expand(ext) { const r = ext[1] - ext[0]; return [ext[0] - r * 0.05, ext[1] + r * 0.05]; }
function inDom(ticks, dom) { return ticks.filter(t => t >= dom[0] && t <= dom[1]); }
function minors(ticks, dom) {
  const step = ticks[1] - ticks[0];
  const out = [];
  for (let t = ticks[0] - step / 2; t <= ticks[ticks.length - 1] + step / 2 + 1e-9; t += step) {
    if (t >= dom[0] && t <= dom[1]) out.push(t);
  }
  return out;
}

panels.forEach((p, i) => {
  const b = p.box;
  const all = p.data.concat(p.one, p.two);
  const x = d3.scaleLinear().domain(expand(d3.extent(all, d => d[0]))).range([b.x0, b.x1]);
  const y = d3.scaleLinear().domain(expand(d3.extent(all, d => d[1]))).range([b.y1, b.y0]);
  const xT = inDom(xTicks, x.domain());
  const yT = inDom(p.yTicks, y.domain());
  const g = svg.append("g");

  g.append("clipPath").attr("id", "clip" + i).append("rect")
    .attr("x", b.x0).attr("y", b.y0).attr("width", b.x1 - b.x0).attr("height", b.y1 - b.y0);

  g.append("rect").attr("x", b.x0).attr("y", b.y0).attr("width", b.x1 - b.x0).attr("height", b.y1 - b.y0).attr("fill", "#fff");

  const grid = g.append("g").attr("clip-path", `url(#clip${i})`);
  grid.selectAll(".mx").data(minors(xTicks, x.domain())).join("line")
    .attr("x1", d => x(d)).attr("x2", d => x(d)).attr("y1", b.y0).attr("y2", b.y1)
    .attr("stroke", "#EBEBEB").attr("stroke-width", 0.6);
  grid.selectAll(".my").data(minors(p.yTicks, y.domain())).join("line")
    .attr("y1", d => y(d)).attr("y2", d => y(d)).attr("x1", b.x0).attr("x2", b.x1)
    .attr("stroke", "#EBEBEB").attr("stroke-width", 0.6);
  grid.selectAll(".Mx").data(xT).join("line")
    .attr("x1", d => x(d)).attr("x2", d => x(d)).attr("y1", b.y0).attr("y2", b.y1)
    .attr("stroke", "#EBEBEB").attr("stroke-width", 1.1);
  grid.selectAll(".My").data(yT).join("line")
    .attr("y1", d => y(d)).attr("y2", d => y(d)).attr("x1", b.x0).attr("x2", b.x1)
    .attr("stroke", "#EBEBEB").attr("stroke-width", 1.1);

  const line = d3.line().x(d => x(d[0])).y(d => y(d[1]));
  const lg = g.append("g").attr("clip-path", `url(#clip${i})`);
  [p.data, p.one, p.two].forEach((s, k) => {
    lg.append("path").datum(s).attr("d", line).attr("fill", "none")
      .attr("stroke", colors[k]).attr("stroke-width", 1.15).attr("stroke-linejoin", "round");
  });

  g.append("rect").attr("x", b.x0).attr("y", b.y0).attr("width", b.x1 - b.x0).attr("height", b.y1 - b.y0)
    .attr("fill", "none").attr("stroke", "#333333").attr("stroke-width", 1.1);

  const ax = g.append("g").attr("transform", `translate(0,${b.y1})`)
    .call(d3.axisBottom(x).tickValues(xT).tickFormat(fmt).tickSize(3.5).tickPadding(2.5));
  const ay = g.append("g").attr("transform", `translate(${b.x0},0)`)
    .call(d3.axisLeft(y).tickValues(yT).tickFormat(fmt).tickSize(3.5).tickPadding(2.5));
  [ax, ay].forEach(a => {
    a.select(".domain").remove();
    a.selectAll(".tick line").attr("stroke", "#333333").attr("stroke-width", 1.1);
    a.selectAll(".tick text").attr("fill", "#4D4D4D").style("font-size", "19px")
      .style("font-family", '"Liberation Sans",Arial,sans-serif');
  });

  const cx = (b.x0 + b.x1) / 2;
  g.append("text").attr("x", cx).attr("y", b.y0 - 11).attr("text-anchor", "middle")
    .style("font-size", "23px").attr("fill", "#000").text(p.title);

  const leg = g.append("g");
  const ly = b.y1 + 61;
  let cur = 0;
  seriesNames.forEach((n, k) => {
    const it = leg.append("g");
    it.append("line").attr("x1", cur).attr("x2", cur + 15.5).attr("y1", 0).attr("y2", 0)
      .attr("stroke", colors[k]).attr("stroke-width", 1.15);
    const t = it.append("text").attr("x", cur + 24.2).attr("y", 0).attr("dy", "0.35em")
      .style("font-size", "19px").attr("fill", "#000").text(n);
    const w = t.node().getComputedTextLength();
    cur += 24.2 + w + 8.5;
  });
  const total = cur - 8.5;
  leg.attr("transform", `translate(${cx + 4 - total / 2},${ly})`);
});
</script>
</body></html>
